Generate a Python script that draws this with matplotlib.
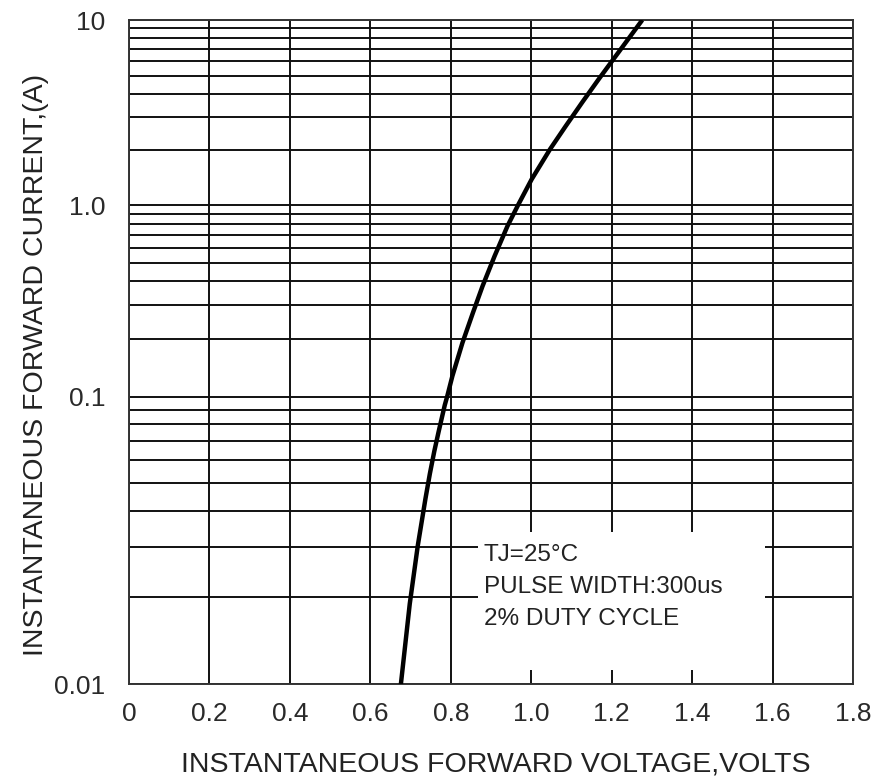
import numpy as np
import matplotlib
matplotlib.use('Agg')
import matplotlib.pyplot as plt
from matplotlib.patches import Rectangle

plt.rcParams['font.family'] = ['Liberation Sans', 'DejaVu Sans']

# forward voltage (V) vs instantaneous forward current (A)
volts = [0.676, 0.698, 0.718, 0.737, 0.748, 0.759, 0.770, 0.785, 0.791,
         0.804, 0.829, 0.855, 0.879, 0.909, 0.941, 0.967, 1.001, 1.047,
         1.086, 1.127, 1.168, 1.212, 1.273, 1.276]
amps = [0.010, 0.019, 0.0303, 0.0441, 0.0539, 0.0645, 0.0757, 0.0933, 0.100,
        0.128, 0.191, 0.274, 0.378, 0.543, 0.779, 1.00, 1.38, 2.01,
        2.68, 3.60, 4.80, 6.47, 9.79, 10.0]

x_ticks = [0, 0.2, 0.4, 0.6, 0.8, 1.0, 1.2, 1.4, 1.6, 1.8]
x_labels = ['0', '0.2', '0.4', '0.6', '0.8', '1.0', '1.2', '1.4', '1.6', '1.8']
y_ticks = [0.01, 0.1, 1.0, 10]
y_labels = ['0.01', '0.1', '1.0', '10']
note = ['TJ=25°C', 'PULSE WIDTH:300us', '2% DUTY CYCLE']

# the printed decades are not equally tall, so map log10 piecewise
LOGS = [-6, -2, -1, 0, 1, 4]
POS = [-1148, 0, 287, 478, 663, 1218]


def fwd(y):
    return np.interp(np.log10(np.clip(y, 1e-9, None)), LOGS, POS)


def inv(p):
    return 10 ** np.interp(p, POS, LOGS)


fig = plt.figure(figsize=(8.84, 7.84), dpi=100)
ax = fig.add_axes([129 / 884, 1 - 684 / 784, 724 / 884, 664 / 784])
ax.set_yscale('function', functions=(fwd, inv))
ax.set_xlim(0, 1.8)
ax.set_ylim(0.01, 10)

minor = [m * 10.0 ** d for d in (-2, -1, 0) for m in range(2, 10)]
ax.set_xticks(x_ticks)
ax.set_xticklabels(x_labels)
ax.set_yticks(y_ticks)
ax.set_yticklabels(y_labels)
ax.set_yticks(minor, minor=True)
ax.yaxis.set_minor_formatter(plt.NullFormatter())

ax.grid(True, which='both', color='#111111', linewidth=1.4, zorder=1)
ax.set_axisbelow(True)
ax.tick_params(which='both', length=0)
ax.tick_params(axis='x', pad=13, labelsize=19, colors='#2a2a2a')
ax.tick_params(axis='y', pad=17, labelsize=19, colors='#2a2a2a')
for s in ax.spines.values():
    s.set_linewidth(1.4)
    s.set_color('#333333')

# white box behind the test conditions
ax.add_patch(Rectangle((0.482, 0.021), 0.396, 0.208, transform=ax.transAxes,
                       facecolor='white', edgecolor='none', zorder=2))
for txt, yy in zip(note, [0.194, 0.146, 0.098]):
    ax.text(0.490, yy, txt, transform=ax.transAxes, fontsize=17.5,
            color='#222222', va='center', ha='left', zorder=3)

ax.plot(volts, amps, color='black', linewidth=3.2, zorder=4,
        solid_joinstyle='round', solid_capstyle='butt')

ax.set_xlabel('INSTANTANEOUS FORWARD VOLTAGE,VOLTS', fontsize=20.5, color='#222222')
ax.set_ylabel('INSTANTANEOUS FORWARD CURRENT,(A)', fontsize=20.5, color='#222222')
ax.xaxis.set_label_coords(0.507, -0.101)
ax.yaxis.set_label_coords(-0.110, 0.480)

fig.savefig('out.png', dpi=100)
